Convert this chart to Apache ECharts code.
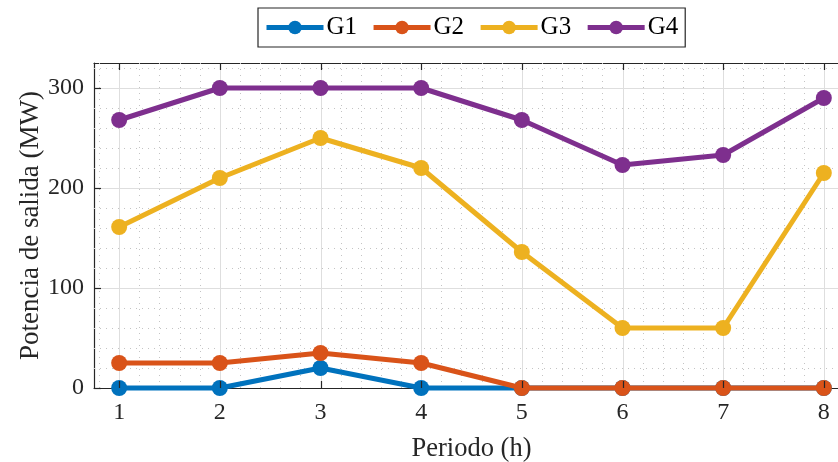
<!DOCTYPE html>
<html>
<head>
<meta charset="utf-8">
<script src="https://cdn.jsdelivr.net/npm/echarts@6/dist/echarts.min.js"></script>
<style>html,body{margin:0;padding:0;background:#fff;overflow:hidden}#c{width:838px;height:462px}</style>
</head>
<body>
<div id="c"></div>
<script>
const periods = [1, 2, 3, 4, 5, 6, 7, 8];
const G1 = [0, 0, 20, 0, 0, 0, 0, 0];
const G2 = [25, 25, 35, 25, 0, 0, 0, 0];
const G3 = [161, 210, 250, 220, 136, 60, 60, 215];
const G4 = [268, 300, 300, 300, 268, 223, 233, 290];
const seriesNames = ['G1', 'G2', 'G3', 'G4'];
const xTicks = [1, 2, 3, 4, 5, 6, 7, 8];
const yTicks = [0, 100, 200, 300];
const xRange = [0.75, 8.25];
const yRange = [0, 325];
const xMinorStep = 0.2;
const yMinorStep = 20;

const colors = ['#0072BD', '#D95319', '#EDB120', '#7E2F8E'];
const FONT = 'Liberation Serif';
const AXIS_COLOR = '#262626';
const TICK_LEN = 7;

function minorValues(lo, hi, step, majors) {
  const out = [];
  const start = Math.ceil(lo / step - 1e-9);
  for (let k = start; k * step <= hi + 1e-9; k++) {
    const v = +(k * step).toFixed(6);
    if (!majors.some(m => Math.abs(m - v) < 1e-6)) out.push(v);
  }
  return out;
}
const xMinor = minorValues(xRange[0], xRange[1], xMinorStep, xTicks);
const yMinor = minorValues(yRange[0], yRange[1], yMinorStep, yTicks);

function gridSeries(vals, vertical, style, z) {
  return {
    type: 'custom',
    silent: true,
    z: z,
    xAxisIndex: 0, yAxisIndex: 0,
    clip: true,
    data: vals.map(v => vertical ? [v, yRange[0]] : [xRange[0], v]),
    renderItem: function (params, api) {
      if (vertical) {
        const v = api.value(0);
        const p1 = api.coord([v, yRange[0]]);
        const p2 = api.coord([v, yRange[1]]);
        const x = Math.round(p1[0]) + 0.5;
        return {type: 'line', shape: {x1: x, y1: p1[1], x2: x, y2: p2[1]}, style: style};
      } else {
        const v = api.value(1);
        const p1 = api.coord([xRange[0], v]);
        const p2 = api.coord([xRange[1], v]);
        const y = Math.round(p1[1]) + 0.5;
        return {type: 'line', shape: {x1: p1[0], y1: y, x2: p2[0], y2: y}, style: style};
      }
    }
  };
}

// inward tick marks on the box edges (bottom/top for x, left/right for y)
function tickSeries(vals, vertical) {
  const st = {stroke: AXIS_COLOR, lineWidth: 1.2};
  return {
    type: 'custom',
    silent: true,
    z: 20,
    xAxisIndex: 0, yAxisIndex: 0,
    clip: false,
    data: vals.map(v => vertical ? [v, yRange[0]] : [xRange[0], v]),
    renderItem: function (params, api) {
      if (vertical) {
        const v = api.value(0);
        const pb = api.coord([v, yRange[0]]);
        const pt = api.coord([v, yRange[1]]);
        const x = Math.round(pb[0]) + 0.5;
        return {type: 'group', children: [
          {type: 'line', shape: {x1: x, y1: pb[1], x2: x, y2: pb[1] - TICK_LEN}, style: st},
          {type: 'line', shape: {x1: x, y1: pt[1], x2: x, y2: pt[1] + TICK_LEN}, style: st}
        ]};
      } else {
        const v = api.value(1);
        const pl = api.coord([xRange[0], v]);
        const pr = api.coord([xRange[1], v]);
        const y = Math.round(pl[1]) + 0.5;
        return {type: 'group', children: [
          {type: 'line', shape: {x1: pl[0], y1: y, x2: pl[0] + TICK_LEN, y2: y}, style: st},
          {type: 'line', shape: {x1: pr[0], y1: y, x2: pr[0] - TICK_LEN, y2: y}, style: st}
        ]};
      }
    }
  };
}

const minorStyle = {stroke: '#c4c4c4', lineWidth: 1, lineDash: [1, 5]};
const majorStyle = {stroke: '#dedede', lineWidth: 1};

const dataSets = [G1, G2, G3, G4];
const lineSeries = dataSets.map((d, i) => ({
  name: seriesNames[i],
  type: 'line',
  xAxisIndex: 0, yAxisIndex: 0,
  data: periods.map((p, j) => [p, d[j]]),
  symbol: 'circle',
  symbolSize: 16,
  clip: false,
  z: 10 + i,
  itemStyle: {color: colors[i]},
  lineStyle: {color: colors[i], width: 5},
  emphasis: {disabled: true}
}));

const chart = echarts.init(document.getElementById('c'), null, {renderer: 'canvas'});
chart.setOption({
  animation: false,
  backgroundColor: '#fff',
  legend: {
    left: 258, top: 8,
    orient: 'horizontal',
    data: seriesNames,
    borderColor: AXIS_COLOR,
    borderWidth: 1.2,
    padding: [7, 7, 7, 6],
    itemWidth: 57,
    itemHeight: 17,
    itemGap: 14,
    lineStyle: {width: 5},
    textStyle: {fontFamily: FONT, fontSize: 25, color: '#000', padding: [0, 0, 0, -2]}
  },
  grid: {left: 94, right: -11, top: 63, bottom: 74, containLabel: false, outerBoundsMode: 'none'},
  xAxis: [{
    type: 'value', position: 'bottom', min: xRange[0], max: xRange[1],
    name: 'Periodo (h)', nameLocation: 'middle', nameGap: 48, nameMoveOverlap: false,
    nameTextStyle: {fontFamily: FONT, fontSize: 26.5, color: '#262626'},
    axisLine: {show: true, lineStyle: {color: AXIS_COLOR, width: 1.2}},
    axisTick: {show: false},
    axisLabel: {show: true, customValues: xTicks, margin: 13, fontFamily: FONT, fontSize: 24, color: '#262626'},
    splitLine: {show: false}
  }, {
    type: 'value', position: 'top', min: xRange[0], max: xRange[1],
    axisLine: {show: true, lineStyle: {color: AXIS_COLOR, width: 1.2}},
    axisTick: {show: false},
    axisLabel: {show: false},
    splitLine: {show: false}
  }],
  yAxis: [{
    type: 'value', position: 'left', min: yRange[0], max: yRange[1],
    name: 'Potencia de salida (MW)', nameLocation: 'middle', nameGap: 50, nameMoveOverlap: false,
    nameTextStyle: {fontFamily: FONT, fontSize: 27, color: '#262626'},
    axisLine: {show: true, lineStyle: {color: AXIS_COLOR, width: 1.2}},
    axisTick: {show: false},
    axisLabel: {show: true, customValues: yTicks, margin: 10, fontFamily: FONT, fontSize: 24, color: '#262626'},
    splitLine: {show: false}
  }],
  series: [
    gridSeries(xMinor, true, minorStyle, 1),
    gridSeries(yMinor, false, minorStyle, 1),
    gridSeries(xTicks, true, majorStyle, 2),
    gridSeries(yTicks, false, majorStyle, 2),
    tickSeries(xTicks, true),
    tickSeries(yTicks, false)
  ].concat(lineSeries)
});
</script>
</body>
</html>
